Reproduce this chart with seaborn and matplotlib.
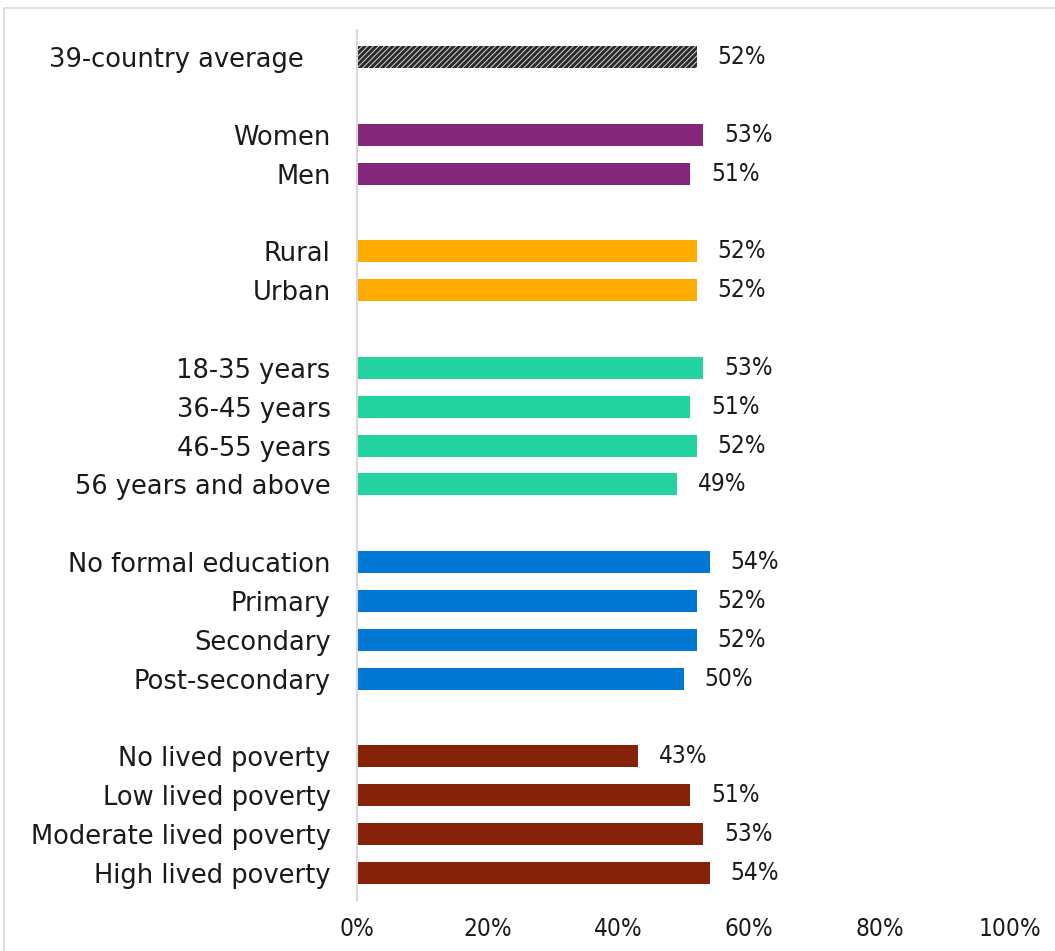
import matplotlib
matplotlib.use("Agg")
import matplotlib.pyplot as plt
import matplotlib.transforms as mtransforms
from matplotlib.patches import Rectangle
import pandas as pd
import seaborn as sns

# ---------------------------------------------------------------------
# DATA
# ---------------------------------------------------------------------
labels = ["39-country average",
          "Women", "Men",
          "Rural", "Urban",
          "18-35 years", "36-45 years", "46-55 years", "56 years and above",
          "No formal education", "Primary", "Secondary", "Post-secondary",
          "No lived poverty", "Low lived poverty", "Moderate lived poverty",
          "High lived poverty"]
values = [52,
          53, 51,
          52, 52,
          53, 51, 52, 49,
          54, 52, 52, 50,
          43, 51, 53, 54]
groups = ["avg",
          "gender", "gender",
          "location", "location",
          "age", "age", "age", "age",
          "education", "education", "education", "education",
          "poverty", "poverty", "poverty", "poverty"]
# row positions leave a blank row between groups
positions = [0, 2, 3, 5, 6, 8, 9, 10, 11, 13, 14, 15, 16, 18, 19, 20, 21]

palette = {"avg": "#ffffff", "gender": "#84277a", "location": "#ffab00",
           "age": "#22d3a0", "education": "#0078d4", "poverty": "#862207"}

df = pd.DataFrame({"label": labels, "value": values,
                   "group": groups, "pos": positions})

# ---------------------------------------------------------------------
# PLOT
# ---------------------------------------------------------------------
sns.set_style("white")
plt.rcParams["font.family"] = ["DejaVu Sans"]
plt.rcParams["hatch.linewidth"] = 2.2

fig = plt.figure(figsize=(10.55, 9.51), dpi=100)
ax = fig.add_axes([357 / 1055, 1 - 900 / 951, (1010 - 357) / 1055, 870 / 951])

sns.barplot(data=df, x="value", y="pos", hue="group", palette=palette,
            orient="y", native_scale=True, dodge=False, width=0.57,
            saturation=1, legend=False, ax=ax, linewidth=0)

# hatched average bar
for p in ax.patches:
    if abs(p.get_y() + p.get_height() / 2) < 0.01:
        p.set_facecolor("#e8e8e8")
        p.set_edgecolor("#2b2b2b")
        p.set_hatch("//////")
        p.set_linewidth(0)

num_font = dict(fontsize=17.5, fontstretch="condensed", color="#1a1a1a")
for c in ax.containers:
    txts = ax.bar_label(c, fmt="{:.0f}%", padding=15, **num_font)
    for t in txts:
        t.set_transform(t.get_transform() +
                        mtransforms.ScaledTranslation(0, -0.03, fig.dpi_scale_trans))

ax.set_xlim(0, 100)
ax.set_ylim(21.7, -0.7)
ax.set_xticks([0, 20, 40, 60, 80, 100])
ax.set_xticklabels([f"{v}%" for v in [0, 20, 40, 60, 80, 100]], **num_font)
ax.set_yticks(positions)
ax.set_yticklabels(labels, fontsize=18.5, color="#1a1a1a")
ax.tick_params(axis="x", length=0, pad=12)
ax.tick_params(axis="y", length=0, pad=19)
ax.set_xlabel("")
ax.set_ylabel("")

# the average label sits a bit further left
first = ax.get_yticklabels()[0]
first.set_transform(first.get_transform() +
                    mtransforms.ScaledTranslation(-0.27, 0, fig.dpi_scale_trans))

for side in ["top", "right", "bottom"]:
    ax.spines[side].set_visible(False)
ax.spines["left"].set_color("#d9d9d9")
ax.spines["left"].set_linewidth(1.5)

# chart border
fig.patches.append(Rectangle((4 / 1055, -0.01), 1.05, 1 - 8 / 951 + 0.01,
                             transform=fig.transFigure, fill=False,
                             edgecolor="#d9d9d9", linewidth=1.2))

fig.savefig("out.png", dpi=100)
